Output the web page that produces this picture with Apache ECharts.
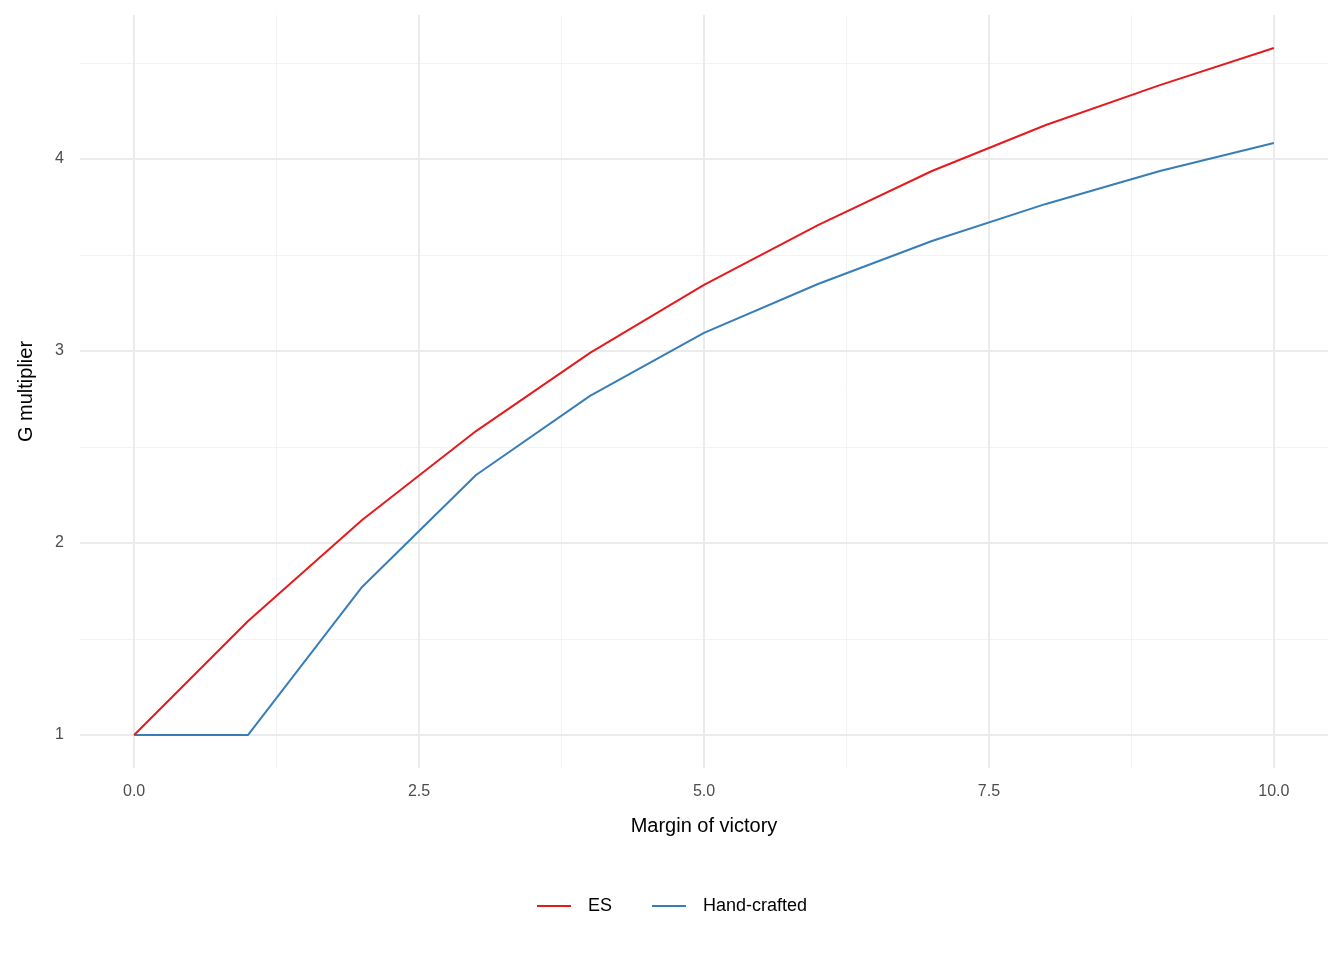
<!DOCTYPE html>
<html><head><meta charset="utf-8">
<script src="https://cdn.jsdelivr.net/npm/echarts@6/dist/echarts.min.js"></script>
<style>html,body{margin:0;background:#fff}#c{width:1344px;height:960px}</style>
</head><body><div id="c"></div>
<script>
const margins = [0,1,2,3,4,5,6,7,8,9,10];
const esValues = [1,1.594,2.12,2.583,2.99,3.344,3.656,3.9375,4.177,4.385,4.578];
const handValues = [1,1,1.771,2.354,2.766,3.094,3.349,3.573,3.766,3.9375,4.083];
const xTicks = [0,2.5,5,7.5,10];
const xMinor = [1.25,3.75,6.25,8.75];
const yTicks = [1,2,3,4];
const yMinor = [1.5,2.5,3.5,4.5];

const ml = (arr, key, color, w) => arr.map(v => ({[key]: v, lineStyle:{color:color,width:w,type:'solid'}}));
const chart = echarts.init(document.getElementById('c'));
chart.setOption({
  animation:false,
  grid:{left:80,right:16,top:15,bottom:192},
  xAxis:{type:'value',min:-0.475,max:10.475,
    name:'Margin of victory',nameLocation:'middle',nameGap:48,
    nameTextStyle:{color:'#000',fontSize:20,fontFamily:'Liberation Sans'},
    axisLine:{show:false},axisTick:{show:false},splitLine:{show:false},
    axisLabel:{customValues:xTicks,formatter:v=>v.toFixed(1),color:'#4d4d4d',fontSize:16,margin:16,fontFamily:'Liberation Sans'}},
  yAxis:{type:'value',min:0.828,max:4.75,
    name:'G multiplier',nameLocation:'middle',nameGap:44,
    nameTextStyle:{color:'#000',fontSize:20,fontFamily:'Liberation Sans'},
    axisLine:{show:false},axisTick:{show:false},splitLine:{show:false},
    axisLabel:{customValues:yTicks,color:'#4d4d4d',fontSize:16,margin:16,fontFamily:'Liberation Sans'}},
  legend:{bottom:40,left:'center',itemWidth:34,itemHeight:2,itemGap:40,icon:'rect',
    textStyle:{fontSize:18,color:'#000',fontFamily:'Liberation Sans',padding:[0,0,0,12]},data:['ES','Hand-crafted']},
  series:[
    {name:'grid',type:'line',data:[],silent:true,z:0,zlevel:0,
     markLine:{silent:true,symbol:'none',label:{show:false},animation:false,z:0,
       emphasis:{disabled:true},
       data:[...ml(xMinor,'xAxis','#f3f3f3',1),...ml(yMinor,'yAxis','#f3f3f3',1),
             ...ml(xTicks,'xAxis','#ebebeb',2),...ml(yTicks,'yAxis','#ebebeb',2)]}},
    {name:'ES',type:'line',data:margins.map((m,i)=>[m,esValues[i]]),showSymbol:false,z:5,
     lineStyle:{color:'#e41a1c',width:2},itemStyle:{color:'#e41a1c'}},
    {name:'Hand-crafted',type:'line',data:margins.map((m,i)=>[m,handValues[i]]),showSymbol:false,z:4,
     lineStyle:{color:'#377eb8',width:2},itemStyle:{color:'#377eb8'}}
  ]
});
</script></body></html>
